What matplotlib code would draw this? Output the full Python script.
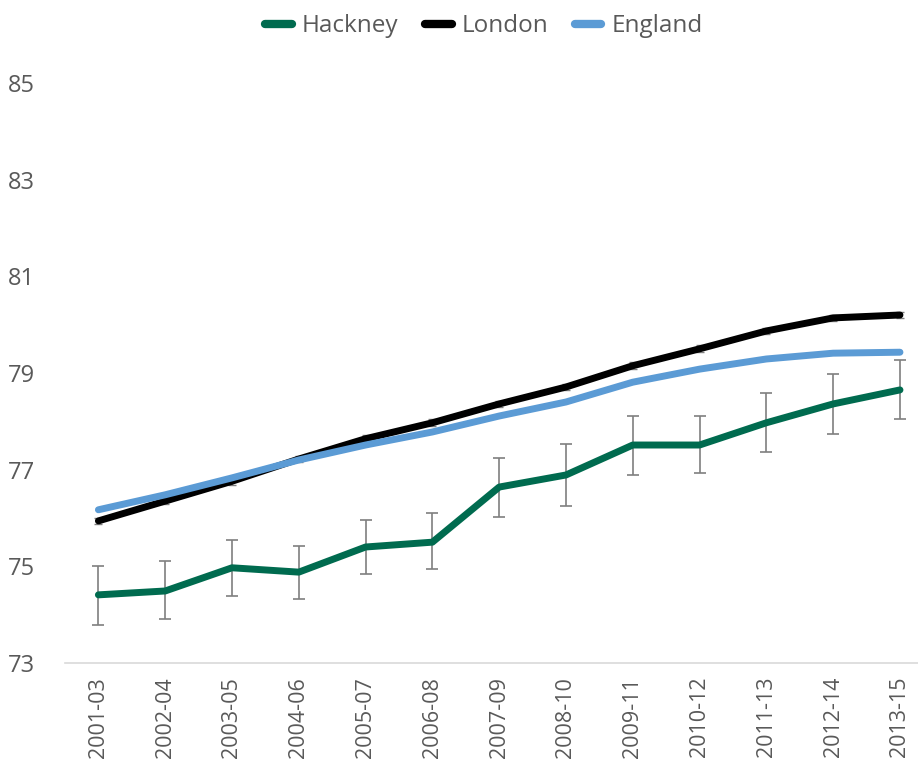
import matplotlib
matplotlib.use("Agg")
import matplotlib.pyplot as plt
import numpy as np

periods = ["2001-03", "2002-04", "2003-05", "2004-06", "2005-07", "2006-08", "2007-09",
           "2008-10", "2009-11", "2010-12", "2011-13", "2012-14", "2013-15"]
hackney = [74.41, 74.49, 74.97, 74.88, 75.40, 75.50, 76.64, 76.89, 77.51, 77.51, 77.97, 78.36, 78.65]
hackney_lo = [73.79, 73.91, 74.39, 74.33, 74.84, 74.95, 76.02, 76.25, 76.89, 76.93, 77.36, 77.74, 78.05]
hackney_hi = [75.01, 75.11, 75.55, 75.43, 75.95, 76.10, 77.25, 77.53, 78.12, 78.12, 78.59, 78.98, 79.27]
london = [75.94, 76.35, 76.76, 77.22, 77.64, 77.97, 78.36, 78.71, 79.15, 79.50, 79.87, 80.14, 80.20]
london_err = [0.07] * 13
england = [76.17, 76.48, 76.83, 77.20, 77.51, 77.78, 78.11, 78.40, 78.81, 79.08, 79.29, 79.41, 79.43]
yticks = [73, 75, 77, 79, 81, 83, 85]

plt.rcParams['font.family'] = ['Open Sans', 'DejaVu Sans']

fig = plt.figure(figsize=(9.18, 7.83), dpi=100)
ax = fig.add_axes([65/918, 1-663/783, 1-65/918, (663-83)/783])

x = np.arange(len(periods))
h = np.array(hackney)
ax.errorbar(x, h, yerr=[h - np.array(hackney_lo), np.array(hackney_hi) - h], fmt='none',
            ecolor='#7f7f7f', elinewidth=1.2, capsize=4, capthick=1.2, zorder=2)
ax.errorbar(x, london, yerr=london_err, fmt='none', ecolor='#7f7f7f', elinewidth=1, capsize=3,
            capthick=1, zorder=2)
ax.plot(x, hackney, color='#006B4F', lw=5, solid_capstyle='round', solid_joinstyle='round',
        label='Hackney', zorder=3)
ax.plot(x, london, color='#000000', lw=5, solid_capstyle='round', solid_joinstyle='round',
        label='London', zorder=3)
ax.plot(x, england, color='#5B9BD5', lw=5, solid_capstyle='round', solid_joinstyle='round',
        label='England', zorder=3)

ax.set_ylim(73, 85)
ax.set_xlim(-0.5, 12.27)
ax.set_yticks(yticks)
ax.set_yticklabels([str(v) for v in yticks], fontsize=17, color='#595959', ha='left')
ax.set_xticks(x)
ax.set_xticklabels(periods, rotation=90, fontsize=15.5, color='#595959')
ax.tick_params(axis='y', length=0, pad=41)
ax.tick_params(axis='x', length=0, pad=10)
for s in ['left', 'right', 'top']:
    ax.spines[s].set_visible(False)
ax.spines['bottom'].set_color('#d9d9d9')
ax.spines['bottom'].set_linewidth(1.2)

leg = fig.legend(loc='upper center', bbox_to_anchor=(0.527, 1.01), ncol=3, frameon=False,
                 fontsize=17.5, handlelength=1.1, handletextpad=0.4, columnspacing=1.1)
for t in leg.get_texts():
    t.set_color('#595959')
for l in leg.get_lines():
    l.set_linewidth(6)

fig.savefig('out.png', dpi=100)
